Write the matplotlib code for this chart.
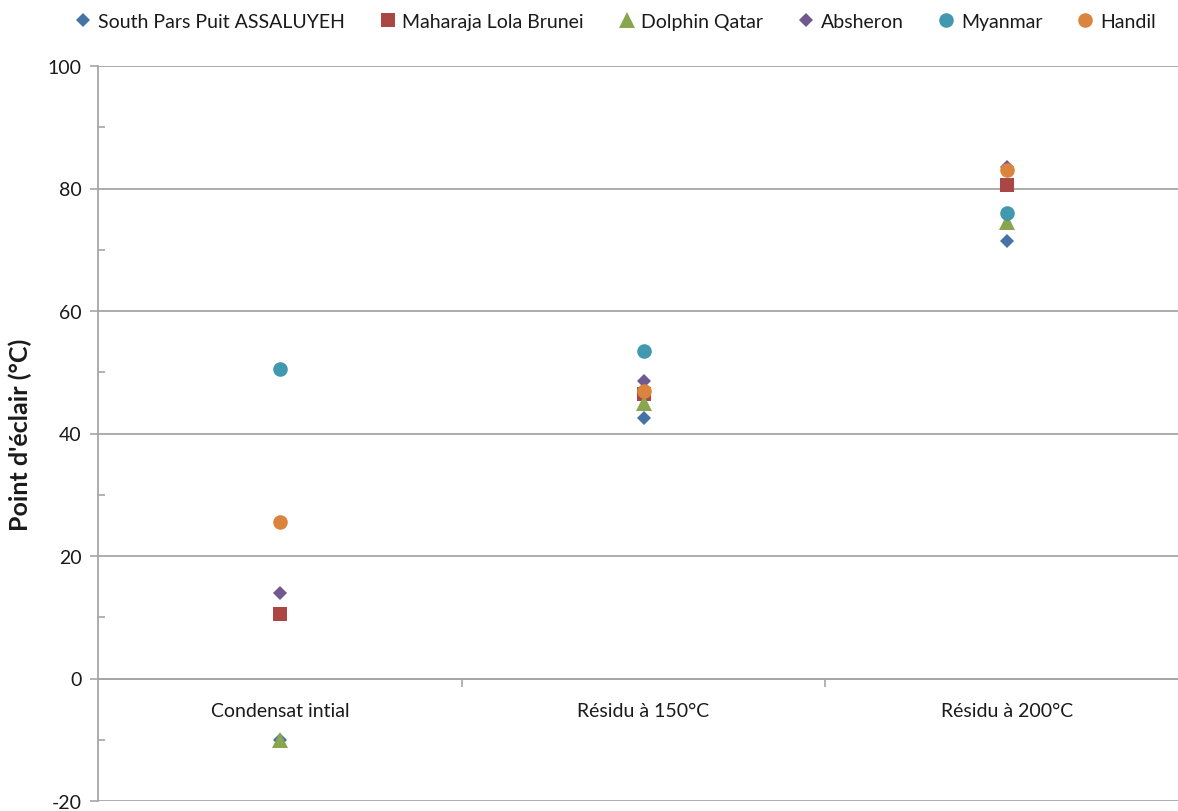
import matplotlib.pyplot as plt

plt.rcParams['font.family'] = ['Lato', 'DejaVu Sans']
plt.rcParams['axes.unicode_minus'] = False

categories = ['Condensat intial', 'Résidu à 150°C', 'Résidu à 200°C']
series_names = ['South Pars Puit ASSALUYEH', 'Maharaja Lola Brunei', 'Dolphin Qatar',
                'Absheron', 'Myanmar', 'Handil']
south_pars = [-10, 42.5, 71.5]
maharaja = [10.5, 46.5, 80.5]
dolphin = [-10, 45, 74.5]
absheron = [14, 48.5, 83.5]
myanmar = [50.5, 53.5, 76]
handil = [25.5, 47, 83]

valeurs = [south_pars, maharaja, dolphin, absheron, myanmar, handil]
couleurs = ['#4572A7', '#AA4643', '#89A54E', '#71588F', '#4198AF', '#DB843D']
marqueurs = ['D', 's', '^', 'D', 'o', 'o']
tailles = [7.5, 10, 11, 7.5, 10.5, 10.5]

gris = '#A6A6AA'

fig = plt.figure(figsize=(11.78, 8.12), dpi=100)
ax = fig.add_axes([98/1178, 10/812, 1091/1178, 735/812])

x = list(range(len(categories)))
for i, nom in enumerate(series_names):
    ax.plot(x, valeurs[i], linestyle='none', marker=marqueurs[i], markersize=tailles[i],
            color=couleurs[i], markeredgewidth=0, label=nom, zorder=3 + i)

ax.set_xlim(-0.5, 2.5)
ax.set_ylim(-20, 100)
ax.set_yticks(range(-20, 101, 20))
ax.set_yticks(range(-10, 100, 20), minor=True)
ax.yaxis.grid(True, which='major', color=gris, linewidth=1.3)
ax.set_axisbelow(True)

# axe des catégories sur la ligne zéro
ax.spines['bottom'].set_position(('data', 0))
ax.spines['bottom'].set_color(gris)
ax.spines['bottom'].set_linewidth(1.3)
ax.spines['left'].set_color(gris)
ax.spines['left'].set_linewidth(1.3)
ax.spines['top'].set_visible(False)
ax.spines['right'].set_visible(False)

ax.set_xticks([0.5, 1.5])
ax.set_xticklabels([])
ax.set_xticks(x, minor=True)
ax.set_xticklabels(categories, minor=True)
ax.tick_params(axis='x', which='major', length=6, width=1.2, color=gris, direction='out')
ax.tick_params(axis='x', which='minor', length=0, pad=17, labelsize=14, labelcolor='#1a1a1a')
ax.tick_params(axis='y', which='major', length=6, width=1.2, color=gris, direction='out',
               labelsize=14, labelcolor='#1a1a1a', pad=6)
ax.tick_params(axis='y', which='minor', length=5, width=1.2, color=gris, direction='in')

ax.set_ylabel("Point d'éclair (°C)", fontsize=18, fontweight='bold', color='#1a1a1a', labelpad=11)

fig.legend(loc='center', bbox_to_anchor=(0.523, 0.972), ncol=6, frameon=False,
           fontsize=14, handlelength=0.7, handletextpad=0.4, columnspacing=1.85,
           labelcolor='#1a1a1a')

fig.savefig('out.png', dpi=100)
